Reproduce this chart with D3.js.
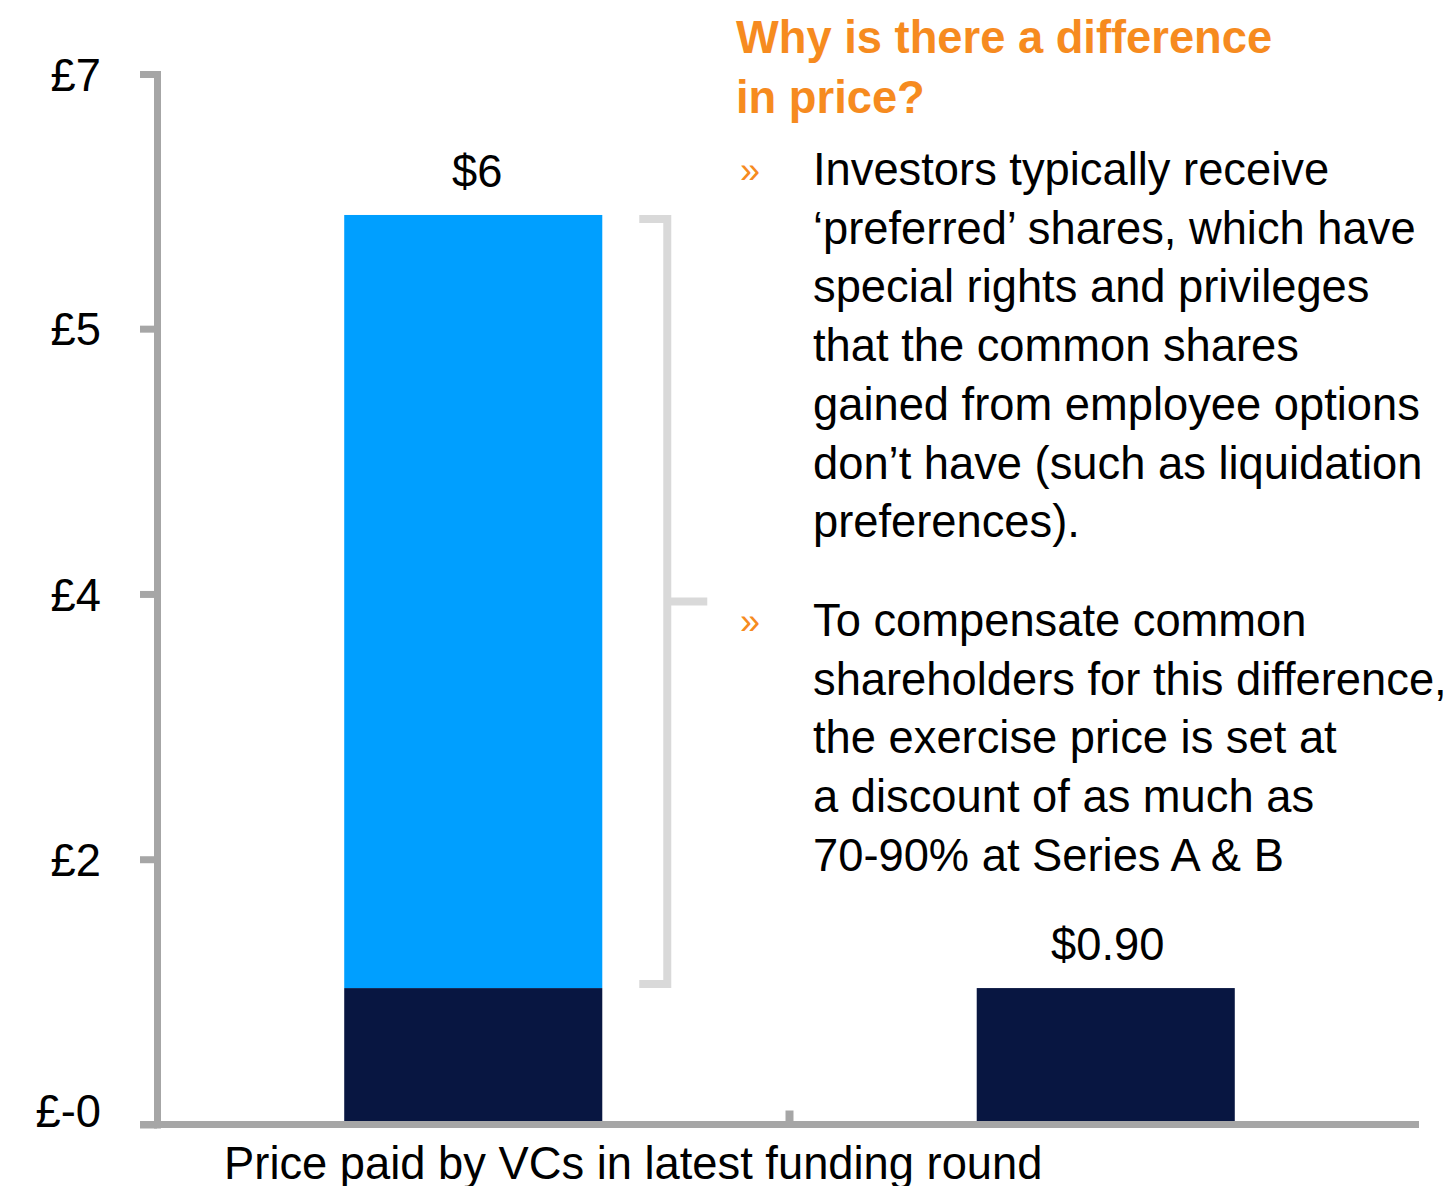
<!DOCTYPE html>
<html>
<head>
<meta charset="utf-8">
<script src="https://cdn.jsdelivr.net/npm/d3@7"></script>
<style>
  html, body { margin: 0; padding: 0; background: #fff; }
  svg { display: block; }
  text { font-family: "Liberation Sans", Arial, Helvetica, sans-serif; }
</style>
</head>
<body>
<svg id="chart" width="1452" height="1186"></svg>
<script>
// ---- data ----
const categories = ["Price paid by VCs in latest funding round", ""];
const commonValues = [0.9, 0.9];          // dark navy segment
const preferredPremium = [5.1, 0];        // light blue segment on top
const totalLabels = ["$6", "$0.90"];
const yTickValues = [0, 1.75, 3.5, 5.25, 6.93];
const yTickLabels = ["£-0", "£2", "£4", "£5", "£7"];
const yMax = 6.93;
const titleLines = ["Why is there a difference", "in price?"];
const bullet1 = ["Investors typically receive", "‘preferred’ shares, which have", "special rights and privileges",
  "that the common shares", "gained from employee options", "don’t have (such as liquidation", "preferences)."];
const bullet2 = ["To compensate common", "shareholders for this difference,", "the exercise price is set at",
  "a discount of as much as", "70-90% at Series A & B"];

// ---- layout ----
const svg = d3.select("#chart");
const plot = { left: 157, right: 1422, top: 74, bottom: 1124.5 };
const colors = { common: "#081641", premium: "#009FFF", axis: "#A6A6A6", bracket: "#D9D9D9", orange: "#F68B1F" };
const fs = 45.3;

const x = d3.scaleBand().domain(d3.range(categories.length)).range([plot.left, plot.right]).padding(0);
const y = d3.scaleLinear().domain([0, yMax]).range([plot.bottom, plot.top]);
const barW = x.bandwidth() * 0.408;

const rows = categories.map((c, i) => ({ i, common: commonValues[i], premium: preferredPremium[i] }));
const stack = d3.stack().keys(["common", "premium"])(rows);

// bars
stack.forEach(layer => {
  svg.append("g").selectAll("rect").data(layer).join("rect")
    .attr("x", d => x(d.data.i) + x.bandwidth() / 2 - barW / 2)
    .attr("width", barW)
    .attr("y", d => y(d[1]))
    .attr("height", d => y(d[0]) - y(d[1]))
    .attr("fill", layer.key === "common" ? colors.common : colors.premium);
});

// value labels
svg.append("g").selectAll("text").data(rows).join("text")
  .attr("x", d => x(d.i) + x.bandwidth() / 2 + (d.i === 0 ? 4 : 2))
  .attr("y", d => y(d.common + d.premium) - 28)
  .attr("text-anchor", "middle")
  .attr("font-size", fs)
  .attr("fill", "#000")
  .text((d, i) => totalLabels[i]);

// y axis
const yAxis = d3.axisLeft(y).tickValues(yTickValues).tickFormat((d, i) => yTickLabels[i])
  .tickSizeInner(17).tickSizeOuter(0).tickPadding(39);
const gy = svg.append("g").attr("transform", `translate(${plot.left},0)`).call(yAxis);
gy.select(".domain").attr("stroke", colors.axis).attr("stroke-width", 7).attr("stroke-linecap", "square");
gy.selectAll(".tick line").attr("stroke", colors.axis).attr("stroke-width", 7);
gy.selectAll(".tick text").attr("font-size", fs).attr("fill", "#000")
  .attr("font-family", "Liberation Sans, Arial, sans-serif")
  .attr("dy", (d, i) => i === 0 ? "0.04em" : "0.36em");

// x axis line
svg.append("line")
  .attr("x1", plot.left - 17).attr("x2", plot.right - 3)
  .attr("y1", plot.bottom).attr("y2", plot.bottom)
  .attr("stroke", colors.axis).attr("stroke-width", 7);
// category boundary tick (pointing up)
svg.append("line")
  .attr("x1", x(1)).attr("x2", x(1))
  .attr("y1", plot.bottom).attr("y2", plot.bottom - 14)
  .attr("stroke", colors.axis).attr("stroke-width", 8);

// category label
svg.append("text")
  .attr("x", x(0) + x.bandwidth() / 2 + 160)
  .attr("y", 1179)
  .attr("text-anchor", "middle")
  .attr("font-size", fs)
  .attr("fill", "#000")
  .text(categories[0]);

// bracket between $6 and $0.90
const bTop = y(commonValues[0] + preferredPremium[0]) + 4;
const bBot = y(commonValues[0]) - 4;
const bx0 = x(0) + x.bandwidth() / 2 + barW / 2 + 37;
const bx1 = bx0 + 28;
svg.append("path")
  .attr("d", `M${bx0},${bTop}H${bx1}V${bBot}H${bx0}M${bx1},${(bTop + bBot) / 2}H${bx1 + 40}`)
  .attr("fill", "none").attr("stroke", colors.bracket).attr("stroke-width", 8);

// commentary
const title = svg.append("text").attr("font-size", fs).attr("font-weight", "bold").attr("fill", colors.orange);
titleLines.forEach((t, i) => title.append("tspan").attr("x", 736).attr("y", 53 + i * 60).text(t));

function bulletBlock(lines, y0) {
  svg.append("text").attr("x", 740).attr("y", y0 - 2).attr("font-size", 36).attr("fill", colors.orange).text("»");
  const t = svg.append("text").attr("font-size", fs).attr("fill", "#000");
  lines.forEach((l, i) => t.append("tspan").attr("x", 813).attr("y", y0 + i * 58.7).text(l));
}
bulletBlock(bullet1, 185);
bulletBlock(bullet2, 636);
</script>
</body>
</html>
